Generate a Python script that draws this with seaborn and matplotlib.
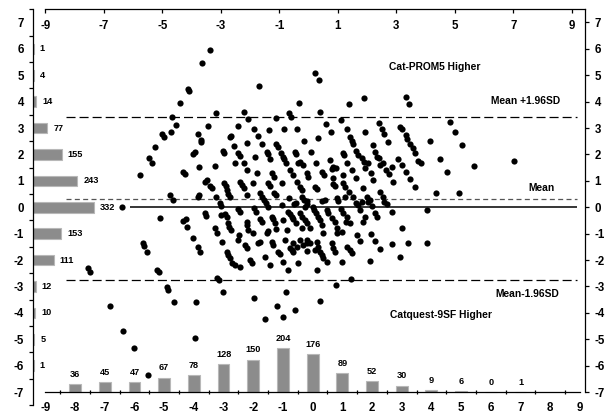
import matplotlib
matplotlib.use("Agg")
import numpy as np
import matplotlib.pyplot as plt
import seaborn as sns

# ── Données ────────────────────────────────────────────────
# histogramme gauche : nombre de sujets par niveau de différence
diff_levels = [6, 5, 4, 3, 2, 1, 0, -1, -2, -3, -4, -5, -6]
diff_counts = [1, 4, 14, 77, 155, 243, 332, 153, 111, 12, 10, 5, 1]

# histogramme bas : nombre de sujets par niveau de moyenne
mean_levels = [-8, -7, -6, -5, -4, -3, -2, -1, 0, 1, 2, 3, 4, 5, 6, 7]
mean_counts = [36, 45, 47, 67, 78, 128, 150, 204, 176, 89, 52, 30, 9, 6, 0, 1]

# droites de Bland-Altman
mean_diff = 0.32
loa_upper = 3.41
loa_lower = -2.77

# nuage de points (moyenne, différence)
points = [
    (-3.45, 5.97), (-3.71, 5.45), (-4.20, 4.48), (-4.15, 4.39), (-4.45, 3.96), (-4.72, 3.41),
    (-4.59, 3.13), (-3.25, 3.57), (-3.51, 3.08), (-1.80, 4.59), (-2.30, 3.60), (-2.16, 3.33),
    (-2.53, 3.09), (-1.96, 2.97), (-1.48, 2.93), (-1.22, 3.39), (-0.95, 2.95), (-0.78, 3.56),
    (0.08, 5.07), (0.20, 4.82), (-0.47, 3.95), (0.25, 3.60), (-0.72, 3.41), (-0.51, 2.98),
    (1.15, 2.95), (1.24, 3.93), (1.74, 4.15), (3.14, 4.17), (3.26, 3.91),
    (5.04, 2.36), (5.43, 1.58), (6.77, 1.75),
    (-4.76, 2.84), (-5.06, 2.76), (-5.00, 2.65), (-3.85, 2.78), (-3.77, 2.55), (-3.75, 2.49),
    (-2.78, 2.65), (-2.75, 2.70), (-1.85, 2.70), (-5.30, 2.27), (-2.65, 2.33), (-2.22, 2.42),
    (-1.69, 2.40), (-1.22, 2.40), (-1.16, 2.30), (-4.02, 2.01), (-3.97, 2.11), (-3.03, 2.14),
    (-2.98, 2.04), (-2.50, 2.04), (-2.44, 1.94), (-1.55, 2.11), (-1.49, 2.02), (-1.06, 2.04),
    (-1.01, 1.92), (-0.59, 2.11), (-0.56, 2.02), (-5.51, 1.85), (-5.40, 1.69), (-3.81, 1.54),
    (-3.29, 1.58), (-2.61, 1.66), (-2.30, 1.66), (-1.94, 1.92), (-1.43, 1.82), (-0.95, 1.82),
    (-0.90, 1.66), (-0.48, 1.66), (-4.36, 1.34), (-4.31, 1.25), (-2.20, 1.41), (-1.88, 1.29),
    (-1.36, 1.29), (-1.30, 1.16), (-0.76, 1.41), (-0.65, 1.22), (-5.80, 1.21), (-3.57, 1.03),
    (-3.62, 0.97), (-3.46, 0.81), (-3.40, 0.72), (-2.98, 0.93), (-2.92, 0.81), (-2.44, 0.97),
    (-2.39, 0.84), (-2.31, 0.72), (-2.20, 0.47), (-2.00, 0.93), (-1.49, 0.93), (-1.43, 0.81),
    (-1.04, 0.91), (-0.54, 0.97), (-4.80, 0.47), (-4.71, 0.28), (-3.87, 0.40), (-3.81, 0.47),
    (-3.25, 0.40), (-2.89, 0.66), (-2.84, 0.50), (-2.78, 0.38), (-1.77, 0.55), (-1.70, 0.40),
    (-1.64, 0.28), (-1.57, 0.15), (-1.49, 0.02), (-1.30, 0.53), (-1.23, 0.47), (-0.78, 0.34),
    (-0.63, 0.12), (-0.57, 0.18), (-0.37, 0.40), (-0.20, 0.12), (-3.12, 0.15), (-3.08, 0.05),
    (-2.50, -0.08), (-2.44, -0.17), (-1.97, -0.04), (-1.91, -0.17), (-1.04, 0.09), (-0.82, -0.17),
    (-0.76, -0.25), (-0.71, -0.36), (-0.65, -0.46), (-0.43, -0.23), (-0.37, -0.35), (-5.14, -0.42),
    (-4.35, -0.51), (-4.27, -0.46), (-3.62, -0.23), (-3.59, -0.33), (-3.10, -0.29), (-2.95, -0.25),
    (-2.89, -0.38), (-2.22, -0.54), (-2.20, -0.67), (-1.77, -0.46), (-1.72, -0.54), (-1.38, -0.36),
    (-1.32, -0.46), (-1.27, -0.58), (-0.99, -0.48), (-0.56, -0.58), (-4.24, -0.73), (-3.29, -0.80),
    (-3.23, -0.99), (-2.84, -0.61), (-2.80, -0.73), (-2.76, -0.86), (-2.47, -1.05), (-2.16, -0.86),
    (-2.00, -0.99), (-1.49, -0.89), (-1.55, -0.99), (-1.23, -0.83), (-0.87, -0.86), (-0.37, -0.80),
    (-4.02, -1.18), (-3.06, -1.30), (-2.50, -1.24), (-2.27, -1.43), (-2.22, -1.55), (-1.83, -1.37),
    (-1.77, -1.30), (-1.38, -1.30), (-1.35, -1.43), (-0.93, -1.24), (-0.65, -1.37), (-0.54, -1.49),
    (-0.20, -1.24), (-0.18, -1.37), (-0.20, -1.66), (-3.85, -1.49), (-3.79, -1.68), (-2.89, -1.68),
    (-2.86, -1.81), (-2.78, -1.93), (-2.73, -2.12), (-2.61, -2.19), (-2.44, -2.27), (-2.11, -1.99),
    (-2.05, -2.12), (-1.60, -1.87), (-1.43, -2.19), (-1.15, -1.68), (-1.10, -1.77), (-0.99, -2.06),
    (-0.82, -2.37), (-0.76, -1.55), (-0.71, -1.62), (-0.65, -1.68), (-0.48, -2.12), (-5.25, -2.37),
    (-5.19, -2.44), (-3.23, -2.69), (-3.17, -2.75), (-4.91, -3.01),
    (-6.41, 0.00), (-5.70, -1.36), (-5.67, -1.47), (-5.59, -1.68), (-7.57, -2.31), (-7.49, -2.44),
    (-4.86, -3.13), (-4.66, -3.57), (-6.84, -3.74), (-3.94, -3.57), (-6.37, -4.69), (-6.03, -5.32),
    (-3.96, -4.96), (-5.53, -6.35), (-3.01, -3.20), (-1.99, -3.45), (-1.60, -4.24), (-1.21, -3.74),
    (-1.01, -4.14), (-0.91, -3.22), (-0.59, -3.89),
    (0.45, 3.16), (0.95, 3.31), (2.25, 3.18), (2.94, 3.05), (4.63, 3.24), (0.62, 2.84),
    (1.76, 2.87), (2.33, 2.97), (2.40, 2.78), (3.00, 2.97), (3.15, 2.74), (3.19, 2.59),
    (4.81, 2.84), (-0.29, 2.52), (0.19, 2.61), (1.26, 2.65), (1.32, 2.52), (1.37, 2.40),
    (2.02, 2.36), (2.55, 2.49), (3.28, 2.40), (3.37, 2.23), (3.95, 2.51), (-0.05, 2.08),
    (1.03, 2.04), (1.07, 1.98), (1.46, 2.15), (1.54, 1.99), (1.65, 1.85), (1.73, 1.73),
    (2.10, 2.11), (2.16, 1.92), (2.27, 1.60), (2.36, 1.67), (3.45, 2.04), (-0.42, 1.73),
    (-0.33, 1.60), (0.11, 1.67), (0.59, 1.79), (0.64, 1.44), (0.70, 1.51), (0.79, 1.48),
    (1.15, 1.69), (1.32, 1.41), (1.76, 1.48), (1.88, 1.67), (1.97, 1.31), (2.24, 1.86),
    (2.47, 1.41), (2.66, 1.54), (2.89, 1.82), (3.00, 1.60), (3.56, 1.75), (3.64, 1.67),
    (4.29, 1.82), (-0.20, 1.29), (-0.14, 1.16), (0.31, 1.32), (0.38, 1.22), (1.03, 1.22),
    (1.46, 1.10), (2.04, 1.03), (2.56, 1.26), (2.72, 0.95), (3.14, 1.35), (3.28, 1.06),
    (4.54, 1.33), (-0.42, 0.78), (-0.37, 0.66), (0.08, 0.78), (0.14, 0.69), (0.68, 1.10),
    (0.70, 0.87), (0.75, 0.81), (1.01, 0.91), (1.09, 0.78), (1.24, 0.59), (1.69, 0.72),
    (1.82, 0.40), (1.93, 0.28), (2.27, 0.59), (2.36, 0.40), (2.40, 0.21), (2.52, 0.13),
    (3.43, 0.76), (4.15, 0.56), (4.94, 0.56), (-0.29, 0.28), (-0.18, 0.25), (0.31, 0.24),
    (0.42, 0.28), (0.81, 0.34), (0.87, 0.25), (1.09, 0.40), (1.37, 0.38), (1.46, 0.15),
    (1.54, 0.09), (1.65, 0.21), (1.88, 0.21), (1.99, 0.05), (2.10, -0.23), (2.16, -0.35),
    (-0.26, 0.02), (0.02, 0.00), (0.06, -0.10), (0.11, -0.23), (0.19, -0.35), (0.47, -0.10),
    (0.53, -0.20), (0.95, -0.08), (1.03, -0.20), (1.15, -0.35), (1.60, -0.10), (1.76, -0.35),
    (2.66, -0.16), (3.84, -0.10), (-0.26, -0.48), (-0.20, -0.61), (0.25, -0.48), (0.31, -0.67),
    (0.66, -0.42), (0.75, -0.54), (1.12, -0.54), (1.26, -0.61), (1.71, -0.54), (3.00, -0.80),
    (-0.09, -0.80), (0.81, -0.80),
    (0.36, -0.99), (0.81, -0.99), (0.98, -0.92), (1.48, -1.05), (1.60, -1.26), (1.97, -1.01),
    (2.10, -1.26), (2.27, -1.59), (2.66, -1.39), (3.22, -1.34), (3.84, -1.36), (2.94, -1.87),
    (-0.42, -1.24), (-0.31, -1.43), (-0.09, -1.36), (0.08, -1.62), (0.14, -1.30), (0.19, -1.49),
    (0.25, -1.68), (0.31, -1.81), (0.36, -1.93), (0.47, -2.06), (0.64, -1.36), (0.70, -1.55),
    (0.75, -1.68), (0.98, -2.06), (1.15, -1.49), (1.26, -1.62), (1.32, -1.74), (1.93, -2.02),
    (0.16, -2.37), (0.78, -2.94), (1.28, -2.72), (0.25, -3.54),
]
mean_vals = [p[0] for p in points]
diff_vals = [p[1] for p in points]

# ── Style ─────────────────────────────────────────────────
sns.set_style("white")
plt.rcParams["font.family"] = ["Liberation Sans", "DejaVu Sans"]
plt.rcParams["font.weight"] = "bold"
plt.rcParams["axes.unicode_minus"] = False
plt.rcParams["lines.scale_dashes"] = False
plt.rcParams["text.color"] = "black"
plt.rcParams["xtick.color"] = "black"
plt.rcParams["ytick.color"] = "black"

BAR_FACE = "#8c8c8c"
BAR_EDGE = "#b8b8b8"
LEFT_SCALE = 0.00609    # longueur de barre (unités x) par sujet
BOTTOM_SCALE = 0.00818  # hauteur de barre (unités y) par sujet
BASELINE = -7
TOP_K = 29.7 / 29.26    # l'axe du haut est légèrement plus serré
TICK_FS = 8.3
COUNT_FS = 6.6
NOTE_FS = 7.4

fig = plt.figure(figsize=(6.11, 4.13), dpi=100)
ax = fig.add_axes([0.0548, 0.0155, 0.9026, 0.962])
ax.set_xlim(-9.40, 9.17)
ax.set_ylim(-7.55, 7.5)
x0 = ax.get_xlim()[0]

# histogrammes
ax.barh(diff_levels, np.array(diff_counts) * LEFT_SCALE, left=x0, height=0.4,
        color=BAR_FACE, edgecolor=BAR_EDGE, linewidth=0.8, zorder=2)
ax.bar(mean_levels, np.array(mean_counts) * BOTTOM_SCALE, bottom=BASELINE, width=0.4,
       color=BAR_FACE, edgecolor=BAR_EDGE, linewidth=0.8, zorder=2)
for lvl, c in zip(diff_levels, diff_counts):
    ax.annotate(str(c), (x0 + c * LEFT_SCALE, lvl), xytext=(4.3, 0),
                textcoords="offset points", ha="left", va="center", fontsize=COUNT_FS)
for lvl, c in zip(mean_levels, mean_counts):
    ax.annotate(str(c), (lvl, BASELINE + c * BOTTOM_SCALE), xytext=(0, 7),
                textcoords="offset points", ha="center", va="center", fontsize=COUNT_FS)

# droites
ax.hlines(0, -6.14, 8.89, color="black", lw=1.1, zorder=3)
ax.hlines(mean_diff, -8.31, 8.89, color="#555555", lw=0.9,
          linestyles=[(0, (3.6, 2.4))], zorder=3)
ax.hlines([loa_upper, loa_lower], -8.31, 8.89, color="black", lw=0.9,
          linestyles=[(0, (6.5, 2.9))], zorder=3)

# nuage
sns.scatterplot(x=mean_vals, y=diff_vals, s=20, color="black", linewidth=0,
                ax=ax, zorder=4, legend=False)

# textes
ax.text(4.12, 5.31, "Cat-PROM5 Higher", ha="center", va="center", fontsize=NOTE_FS)
ax.text(7.18, 4.04, "Mean +1.96SD", ha="center", va="center", fontsize=NOTE_FS)
ax.text(7.71, 0.74, "Mean", ha="center", va="center", fontsize=NOTE_FS)
ax.text(7.22, -3.30, "Mean-1.96SD", ha="center", va="center", fontsize=NOTE_FS)
ax.text(4.31, -4.08, "Catquest-9SF Higher", ha="center", va="center", fontsize=NOTE_FS)

# axes
for side in ["left", "right", "bottom"]:
    ax.spines[side].set_color("black")
    ax.spines[side].set_linewidth(0.9)
ax.spines["top"].set_visible(False)
ax.spines["left"].set_bounds(-7.5, 7.5)
ax.spines["right"].set_bounds(-7, 7.5)
ax.spines["bottom"].set_position(("data", BASELINE))
ax.spines["bottom"].set_bounds(-9, 9)

ax.set_xticks(range(-9, 10))
ax.set_xticks(np.arange(-8.5, 9, 1), minor=True)
ax.tick_params(axis="x", which="major", bottom=True, top=False, length=0,
               pad=7, labelsize=TICK_FS)
ax.tick_params(axis="x", which="minor", bottom=True, top=False, length=3.5,
               width=0.9, direction="inout")
ax.set_yticks(range(-7, 8))
ax.set_yticks(np.arange(-7.5, 8, 1), minor=True)
ax.tick_params(axis="y", which="major", left=False, right=True, labelleft=True,
               labelright=True, length=3, width=0.9, direction="out", pad=4,
               labelsize=TICK_FS)
ax.tick_params(axis="y", which="minor", left=True, right=False, length=3,
               width=0.9, direction="out")

sec = ax.secondary_xaxis("top", functions=(lambda x: (x + 9) * TOP_K - 9,
                                           lambda v: (v + 9) / TOP_K - 9))
sec.set_xticks(range(-9, 10, 2))
sec.tick_params(axis="x", direction="in", length=3, width=0.9, pad=-16,
                labelsize=TICK_FS, colors="black")
sec.spines["top"].set_color("black")
sec.spines["top"].set_linewidth(0.9)
sec.spines["top"].set_bounds(-9, (9.17 + 9) * TOP_K - 9)

fig.savefig("out.png", dpi=100)
